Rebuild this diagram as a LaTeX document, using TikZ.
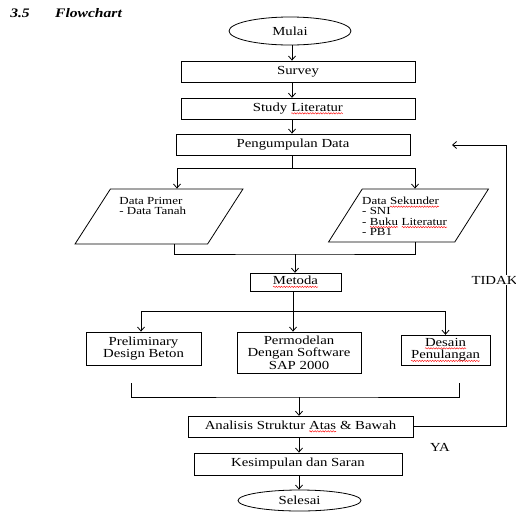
\documentclass[tikz,border=0pt]{standalone}
\usepackage{fontspec}
\setmainfont{Liberation Serif}[FakeStretch=1.2]
\usetikzlibrary{shapes.geometric}
\usetikzlibrary{arrows.meta}
\usetikzlibrary{decorations.pathmorphing}

% garis merah bergelombang di bawah kata
\newcommand\typo[1]{\tikz[baseline=(kata.base)]{\node[inner sep=0pt, outer sep=0pt, minimum width=0pt,
    minimum height=0pt, draw=none, fill=none, rectangle, font={}] (kata) {#1};
    \draw[red, line width=0.4pt, decorate, decoration={snake, amplitude=0.7pt, segment length=2.6pt}]
    ([yshift=-2pt]kata.base west) -- ([yshift=-2pt]kata.base east);}}

\begin{document}
\begin{tikzpicture}
    [x=1pt, y=-1pt, line width=0.8pt, >={Straight Barb[length=4pt, width=7pt]},
    every node/.style={font=\fontsize{12.3}{12.5}\selectfont},
    proses/.style={draw, rectangle, inner sep=0pt, align=center},
    terminal/.style={draw, ellipse, inner sep=0pt},
    dataio/.style={draw, trapezium, trapezium left angle=70, trapezium right angle=110,
    trapezium stretches=true, inner sep=2pt},
    isi/.style={anchor=north west, align=left, inner sep=0pt,
    font=\fontsize{10.8}{10.2}\selectfont}]

    \useasboundingbox (0,0) rectangle (516,512);

    % judul
    \node[font=\fontsize{13}{14}\selectfont\bfseries\itshape] (nomor) at (20,13) {3.5};
    \node[font=\fontsize{13}{14}\selectfont\bfseries\itshape] (judul) at (88.5,13) {Flowchart};

    % Draw the steps
    \node[terminal, minimum width=122, minimum height=28] (mulai) at (290,31) {Mulai};
    \node[proses, minimum width=234, minimum height=21] (survey) at (298,71.5) {Survey};
    \node[proses, minimum width=234, minimum height=21] (studi) at (298,108.5) {Study \typo{Literatur}};
    \node[proses, minimum width=234, minimum height=21] (kumpul) at (293,144.5) {Pengumpulan Data};

    \node[dataio, minimum width=168, minimum height=55] (primer) at (159,216.5) {};
    \node[dataio, minimum width=160, minimum height=53] (sekunder) at (408.5,215.5) {};
    \node[isi] (primerisi) at (119,197) {Data Primer\\- Data Tanah};
    \node[isi] (sekunderisi) at (362,197) {Data \typo{Sekunder}\\- SNI\\- \typo{Buku} \typo{Literatur}\\- PB1};

    \node[proses, minimum width=91, minimum height=18] (metoda) at (295.5,282) {\typo{Metoda}};
    \node[proses, minimum width=115, minimum height=33] (prelim) at (143.5,348.5) {Preliminary\\Design Beton};
    \node[proses, minimum width=124, minimum height=41] (model) at (299,352.5) {Permodelan\\Dengan Software\\SAP 2000};
    \node[proses, minimum width=89, minimum height=30] (desain) at (445.5,350) {\typo{Desain}\\\typo{Penulangan}};

    \node[proses, minimum width=225, minimum height=21] (analisis) at (300.5,426.5) {Analisis Struktur \typo{Atas} \& Bawah};
    \node[proses, minimum width=208, minimum height=22] (simpul) at (298,464) {Kesimpulan dan Saran};
    \node[terminal, minimum width=123, minimum height=21] (selesai) at (299.5,500.5) {Selesai};

    \coordinate (pecah1) at (292,168);
    \coordinate (gabung1) at (295,254);
    \coordinate (pecah2) at (293,311);
    \coordinate (gabung2) at (299,397);
    \coordinate (kiri2) at (131,383);
    \coordinate (kanan2) at (459,383);
    \coordinate (balik) at (452,145);
    \coordinate (jalur) at (506,0);

    % Draw the arrows
    \draw[->] (pecah1 |- mulai.south) -- (pecah1 |- survey.north);
    \draw[->] (pecah1 |- survey.south) -- (pecah1 |- studi.north);
    \draw[->] (pecah1 |- studi.south) -- (pecah1 |- kumpul.north);
    \draw (pecah1 |- kumpul.south) -- (pecah1);
    \draw[->] (pecah1) -| ([xshift=18pt]primer.north);
    \draw[->] (pecah1) -| ([xshift=6.5pt]sekunder.north);

    \draw ([xshift=15pt]primer.south) |- (gabung1) -| ([xshift=6.5pt]sekunder.south);
    \draw[->] (gabung1) -- (gabung1 |- metoda.north);

    \draw (pecah2 |- metoda.south) -- (pecah2);
    \draw[->] (pecah2) -| ([xshift=-2.5pt]prelim.north);
    \draw[->] (pecah2) -- (pecah2 |- model.north);
    \draw[->] (pecah2) -| (desain.north);

    \draw (kiri2) |- (gabung2) -| (kanan2);
    \draw[->] (gabung2) -- (gabung2 |- analisis.north);
    \draw[->] (gabung2 |- analisis.south) -- (gabung2 |- simpul.north);
    \draw[->] (gabung2 |- simpul.south) -- (gabung2 |- selesai.north);

    % loop kembali
    \draw[->] (analisis.east) -| (jalur |- balik) -- (balik);
    \node[fill=white, inner sep=1pt] (tidak) at (494.5,280) {TIDAK};
    \node (ya) at (440,447) {YA};

\end{tikzpicture}
\end{document}
